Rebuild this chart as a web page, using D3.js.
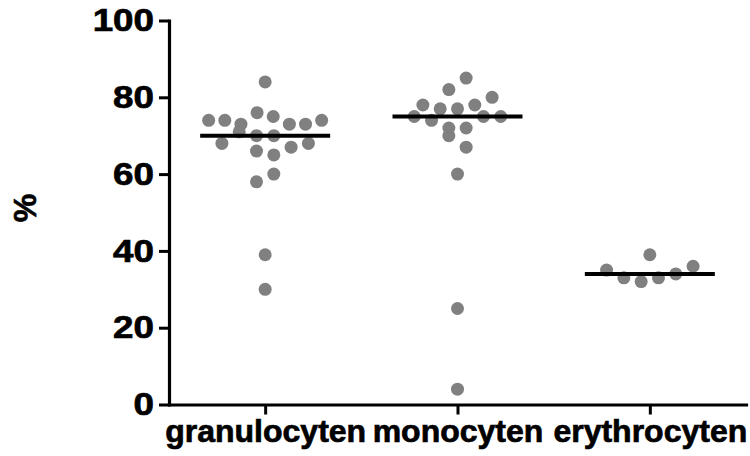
<!DOCTYPE html>
<html>
<head>
<meta charset="utf-8">
<script src="https://cdn.jsdelivr.net/npm/d3@7"></script>
<style>
  html, body { margin: 0; padding: 0; background: #fff; }
  svg { display: block; }
  text { font-family: "Liberation Sans", Arial, sans-serif; font-weight: bold; fill: #000; stroke: #000; stroke-width: 0.7px; }
</style>
</head>
<body>
<svg id="chart" width="750" height="456"></svg>
<script>
// Cell fractions per cell type (%), one value per sample
const categories = ["granulocyten", "monocyten", "erythrocyten"];
const granulocyten = [84, 74, 74, 73, 76, 75, 73, 73, 74, 68, 71, 70, 70, 67, 68, 66, 65, 58, 60, 39, 30];
const monocyten = [82, 85, 78, 77, 77, 78, 80, 75, 74, 72, 72, 75, 75, 70, 67, 60, 25, 4];
const erythrocyten = [35, 33, 32, 39, 33, 34, 36];
const yTicks = [0, 20, 40, 60, 80, 100];
const yLabel = "%";

const seriesByCategory = { granulocyten, monocyten, erythrocyten };

const svg = d3.select("#chart");

const x = d3.scalePoint().domain(categories).range([169, 746]).padding(0.5);
const y = d3.scaleLinear().domain([0, 100]).range([404.5, 20.5]);

// Scatter layout: values falling in the same value bin share a row,
// spread symmetrically around the category centre.
const binWidth = 5, binOrigin = 2;
const dotStep = 17.3, maxRowWidth = 113;
const points = [];
categories.forEach(cat => {
  const rowMembers = new Map();
  seriesByCategory[cat].forEach(v => {
    const key = Math.floor((v - binOrigin) / binWidth);
    if (!rowMembers.has(key)) rowMembers.set(key, []);
    rowMembers.get(key).push(v);
  });
  rowMembers.forEach(list => {
    const n = list.length;
    const step = n > 1 ? Math.min(dotStep, maxRowWidth / (n - 1)) : 0;
    list.forEach((v, j) => {
      points.push({ cat, value: v, dx: (j - (n - 1) / 2) * step });
    });
  });
});

// Dots
svg.append("g")
  .selectAll("circle")
  .data(points)
  .join("circle")
  .attr("cx", d => x(d.cat) + d.dx)
  .attr("cy", d => y(d.value))
  .attr("r", 6.5)
  .attr("fill", "#808080");

// Median lines
const medianHalf = 65;
svg.append("g")
  .selectAll("line")
  .data(categories)
  .join("line")
  .attr("x1", c => x(c) - medianHalf)
  .attr("x2", c => x(c) + medianHalf)
  .attr("y1", c => y(d3.median(seriesByCategory[c])))
  .attr("y2", c => y(d3.median(seriesByCategory[c])))
  .attr("stroke", "#000")
  .attr("stroke-width", 4);

// Y axis
const yAxis = svg.append("g")
  .attr("transform", "translate(169,0)")
  .call(d3.axisLeft(y).tickValues(yTicks).tickSize(10).tickSizeOuter(0).tickPadding(5));
yAxis.select(".domain").attr("stroke-width", 3.2).attr("stroke-linecap", "square");
yAxis.selectAll(".tick line").attr("stroke-width", 3);
yAxis.selectAll(".tick text")
  .attr("font-size", 32)
  .each(function () {
    const t = d3.select(this);
    const tx = +t.attr("x");
    t.attr("transform", `translate(${tx},0) scale(1.15,1) translate(${-tx},0)`);
  });

// X axis
const xAxis = svg.append("g")
  .attr("transform", "translate(0,404.5)")
  .call(d3.axisBottom(x).tickSize(10).tickSizeOuter(0).tickPadding(4.5));
xAxis.select(".domain").attr("stroke-width", 3.2).attr("stroke-linecap", "square");
xAxis.selectAll(".tick line").attr("stroke-width", 3);
xAxis.selectAll(".tick text")
  .attr("font-size", 32);

// Y axis title
svg.append("text")
  .attr("transform", "translate(36,208) rotate(-90)")
  .attr("text-anchor", "middle")
  .attr("font-size", 32)
  .text(yLabel);
</script>
</body>
</html>
